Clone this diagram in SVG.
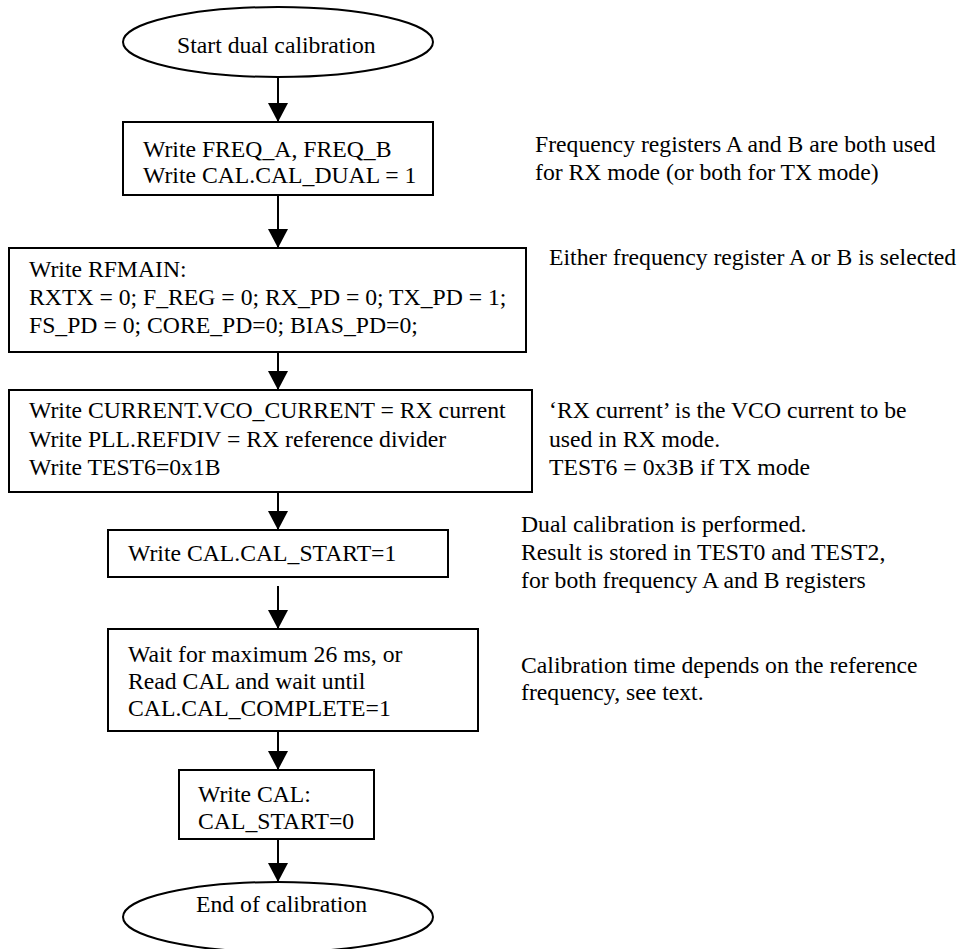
<svg xmlns="http://www.w3.org/2000/svg" width="962" height="949" viewBox="0 0 962 949">
<defs>
<style>
.t{font-family:"Liberation Serif","Times New Roman",serif;font-size:23.7px;fill:#000}
.n{fill:#fff;stroke:#000;stroke-width:2}
.c{stroke:#000;stroke-width:2;fill:none}
</style>
<marker id="ah" viewBox="0 0 19 20" refX="19" refY="10" markerWidth="19" markerHeight="20" markerUnits="userSpaceOnUse" orient="auto">
<path d="M0,0 L19,10 L0,20 z" fill="#000"/>
</marker>
</defs>
<rect width="962" height="949" fill="#fff"/>
<g id="connectors">
<line class="c" x1="278" y1="77" x2="278" y2="122" marker-end="url(#ah)"/>
<line class="c" x1="278" y1="195" x2="278" y2="248" marker-end="url(#ah)"/>
<line class="c" x1="278" y1="352" x2="278" y2="390" marker-end="url(#ah)"/>
<line class="c" x1="278" y1="488" x2="278" y2="530" marker-end="url(#ah)"/>
<line class="c" x1="278" y1="586" x2="278" y2="629" marker-end="url(#ah)"/>
<line class="c" x1="278" y1="727" x2="278" y2="770" marker-end="url(#ah)"/>
<line class="c" x1="278" y1="840" x2="278" y2="882" marker-end="url(#ah)"/>
</g>
<g id="start">
<ellipse class="n" cx="278" cy="42" rx="155" ry="35"/>
<text class="t" x="177" y="53">Start dual calibration</text>
</g>
<g id="write_freq">
<rect class="n" x="123" y="122" width="310" height="73"/>
<text class="t" x="143" y="157">Write FREQ_A, FREQ_B</text>
<text class="t" x="143" y="183">Write CAL.CAL_DUAL = 1</text>
</g>
<g id="write_rfmain">
<rect class="n" x="9" y="248" width="517" height="104"/>
<text class="t" x="29" y="277">Write RFMAIN:</text>
<text class="t" x="29" y="305">RXTX = 0; F_REG = 0; RX_PD = 0; TX_PD = 1;</text>
<text class="t" x="29" y="333">FS_PD = 0; CORE_PD=0; BIAS_PD=0;</text>
</g>
<g id="write_current">
<rect class="n" x="9" y="390" width="523" height="102"/>
<text class="t" x="29" y="418">Write CURRENT.VCO_CURRENT = RX current</text>
<text class="t" x="29" y="447">Write PLL.REFDIV = RX reference divider</text>
<text class="t" x="29" y="475">Write TEST6=0x1B</text>
</g>
<g id="cal_start">
<rect class="n" x="108" y="530" width="340" height="47"/>
<text class="t" x="128" y="561">Write CAL.CAL_START=1</text>
</g>
<g id="wait">
<rect class="n" x="108" y="629" width="370" height="102"/>
<text class="t" x="128" y="662">Wait for maximum 26 ms, or</text>
<text class="t" x="128" y="689">Read CAL and wait until</text>
<text class="t" x="128" y="716">CAL.CAL_COMPLETE=1</text>
</g>
<g id="cal_stop">
<rect class="n" x="179" y="770" width="195" height="69"/>
<text class="t" x="198" y="802">Write CAL:</text>
<text class="t" x="198" y="829">CAL_START=0</text>
</g>
<g id="end">
<ellipse class="n" cx="278" cy="917" rx="155" ry="35"/>
<text class="t" x="196" y="912">End of calibration</text>
</g>
<g id="notes">
<text class="t" x="535" y="152">Frequency registers A and B are both used</text>
<text class="t" x="535" y="180">for RX mode (or both for TX mode)</text>
<text class="t" x="549" y="265">Either frequency register A or B is selected</text>
<text class="t" x="549" y="418">‘RX current’ is the VCO current to be</text>
<text class="t" x="549" y="447">used in RX mode.</text>
<text class="t" x="549" y="475">TEST6 = 0x3B if TX mode</text>
<text class="t" x="521" y="532">Dual calibration is performed.</text>
<text class="t" x="521" y="560">Result is stored in TEST0 and TEST2,</text>
<text class="t" x="521" y="588">for both frequency A and B registers</text>
<text class="t" x="521" y="673">Calibration time depends on the reference</text>
<text class="t" x="521" y="700">frequency, see text.</text>
</g>
</svg>
